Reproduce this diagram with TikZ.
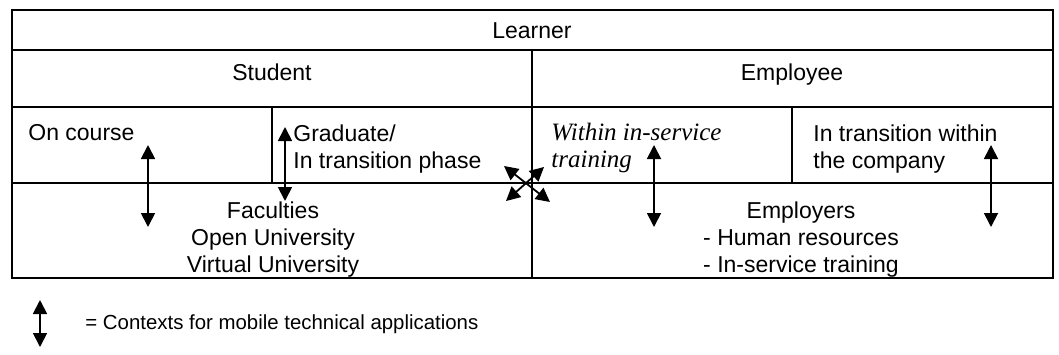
\documentclass[tikz,border=0pt]{standalone}
\usepackage{fontspec}
\setmainfont{Liberation Sans}
\newfontfamily\tmsfont{Liberation Serif}
\usetikzlibrary{arrows.meta}

\begin{document}
\begin{tikzpicture}[x=0.5pt,y=0.5pt,yscale=-1,xscale=1,
  tbl/.style={line width=1.1pt},
  ctx/.style={{Triangle[length=7pt,width=7pt]}-{Triangle[length=7pt,width=7pt]}, line width=0.9pt},
  every node/.style={font=\fontsize{11.5}{13.5}\selectfont, inner sep=0pt}]
\useasboundingbox (0,0) rectangle (1059,354);

%Shape: Rectangle
\draw [tbl] (12,10) rectangle (1053,278) ;
%Straight Lines
\draw [tbl] (12,50) -- (1053,50) ;
\draw [tbl] (12,107) -- (1053,107) ;
\draw [tbl] (12,183) -- (1053,183) ;
\draw [tbl] (532,50) -- (532,278) ;
\draw [tbl] (272,107) -- (272,183) ;
\draw [tbl] (792,107) -- (792,183) ;

% Text Node
\node (learner) [anchor=base] at (532,38) {Learner};
% Text Node
\node (student) [anchor=base] at (272,80) {Student};
% Text Node
\node (employee) [anchor=base] at (792,80) {Employee};
% Text Node
\node (oncourse) [anchor=base west] at (28,140) {On course};
% Text Node
\node (graduate) [anchor=north west, align=left] at (293,124) {Graduate/\\In transition phase};
% Text Node
\node (inservice) [anchor=north west, align=left, font=\tmsfont\itshape\fontsize{12.5}{13.5}\selectfont] at (551,123) {Within in-service\\training};
% Text Node
\node (company) [anchor=north west, align=left] at (813,124) {In transition within\\the company};
% Text Node
\node (faculties) [anchor=north, align=center] at (273,201) {Faculties\\Open University\\Virtual University};
% Text Node
\node (employers) [anchor=north, align=center] at (801,201) {Employers\\- Human resources\\- In-service training};
% Text Node
\node (legend) [anchor=base west, font=\fontsize{10.2}{12}\selectfont] at (85,329) {= Contexts for mobile technical applications};

%Arrows
\coordinate (oncTop) at (148,145);
\coordinate (oncBot) at (148,227);
\draw [ctx] (oncTop) -- (oncBot) ;
\coordinate (gradTop) at (285,127);
\coordinate (gradBot) at (285,201);
\draw [ctx] (gradTop) -- (gradBot) ;
\coordinate (insTop) at (654,145);
\coordinate (insBot) at (654,227);
\draw [ctx] (insTop) -- (insBot) ;
\coordinate (comTop) at (991,145);
\coordinate (comBot) at (991,227);
\draw [ctx] (comTop) -- (comBot) ;
\coordinate (crossA) at (504,166);
\coordinate (crossB) at (550,202);
\draw [ctx] (crossA) -- (crossB) ;
\coordinate (crossC) at (506,201);
\coordinate (crossD) at (544,167);
\draw [ctx] (crossC) -- (crossD) ;
\coordinate (keyTop) at (40,300);
\coordinate (keyBot) at (40,347);
\draw [ctx] (keyTop) -- (keyBot) ;

\end{tikzpicture}
\end{document}
